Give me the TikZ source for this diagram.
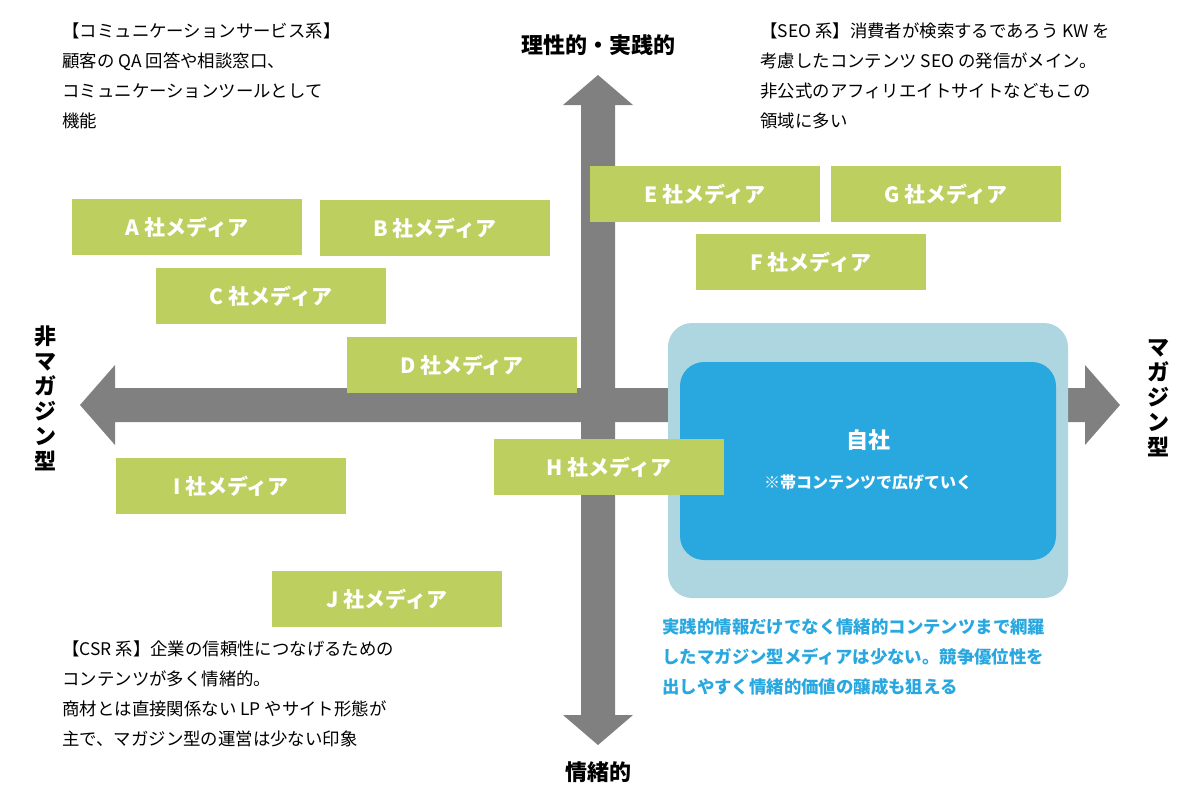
\documentclass[tikz,border=0pt]{standalone}
\usepackage{fontspec}
\setmainfont{Noto Sans CJK JP}
\definecolor{axisgray}{HTML}{808080}
\definecolor{mediagreen}{HTML}{BCCF5F}
\definecolor{ownlight}{HTML}{ADD6E0}
\definecolor{ownblue}{HTML}{29A8E0}
\tikzset{
  media/.style={fill=mediagreen, text=white, font=\bfseries\fontsize{10.5}{12}\selectfont, minimum width=115pt, minimum height=28pt, inner sep=0pt},
  note/.style={anchor=north west, align=left, font=\fontsize{8.7}{15}\selectfont, inner sep=0pt},
  axislabel/.style={font=\bfseries\fontsize{11}{13}\selectfont, inner sep=0pt},
}
\begin{document}
\begin{tikzpicture}[x=0.5pt,y=-0.5pt]
\useasboundingbox (0,0) rectangle (1200,800);
% axes
\fill[axisgray] (581,105) -- (563,105) -- (598,75) -- (633,105) -- (615,105) -- (615,715) -- (633,715) -- (598,745) -- (563,715) -- (581,715) -- cycle;
\fill[axisgray] (115,388) -- (115,365) -- (80,405) -- (115,445) -- (115,422) -- (1085,422) -- (1085,445) -- (1120,405) -- (1085,365) -- (1085,388) -- cycle;
% own media
\fill[ownlight, rounded corners=12pt] (668,323) rectangle (1068,598);
\fill[ownblue, rounded corners=12pt] (680,362) rectangle (1056,560);
\node (own) [text=white, font=\bfseries\fontsize{11}{13}\selectfont] at (868,440) {自社};
\node (ownnote) [text=white, font=\bfseries\fontsize{8}{10}\selectfont] at (868,483) {※帯コンテンツで広げていく};
% media boxes
\node (a) [media] at (187,227) {A 社メディア};
\node (b) [media] at (435,228) {B 社メディア};
\node (c) [media] at (271,296) {C 社メディア};
\node (d) [media] at (462,365) {D 社メディア};
\node (e) [media] at (705,194) {E 社メディア};
\node (g) [media] at (946,194) {G 社メディア};
\node (f) [media] at (811,262) {F 社メディア};
\node (h) [media] at (609,467) {H 社メディア};
\node (i) [media] at (231,486) {I 社メディア};
\node (j) [media] at (387,599) {J 社メディア};
% axis labels
\node (top) [axislabel] at (598,45) {理性的・実践的};
\node (bottom) [axislabel] at (598,772) {情緒的};
\node (left) [axislabel, align=center, font=\bfseries\fontsize{11}{12.5}\selectfont] at (45,398) {非\\マ\\ガ\\ジ\\ン\\型};
\node (right) [axislabel, align=center, font=\bfseries\fontsize{11}{12.5}\selectfont] at (1158,398) {マ\\ガ\\ジ\\ン\\型};
% notes
\node (tl) [note] at (62,22) {【コミュニケーションサービス系】\\顧客の QA 回答や相談窓口、\\コミュニケーションツールとして\\機能};
\node (tr) [note] at (760,22) {【SEO 系】消費者が検索するであろう KW を\\考慮したコンテンツ SEO の発信がメイン。\\非公式のアフィリエイトサイトなどもこの\\領域に多い};
\node (bl) [note] at (62,640) {【CSR 系】企業の信頼性につなげるための\\コンテンツが多く情緒的。\\商材とは直接関係ない LP やサイト形態が\\主で、マガジン型の運営は少ない印象};
\node (br) [note, text=ownblue, font=\bfseries\fontsize{8.7}{15}\selectfont] at (662,618) {実践的情報だけでなく情緒的コンテンツまで網羅\\したマガジン型メディアは少ない。競争優位性を\\出しやすく情緒的価値の醸成も狙える};
\end{tikzpicture}
\end{document}
